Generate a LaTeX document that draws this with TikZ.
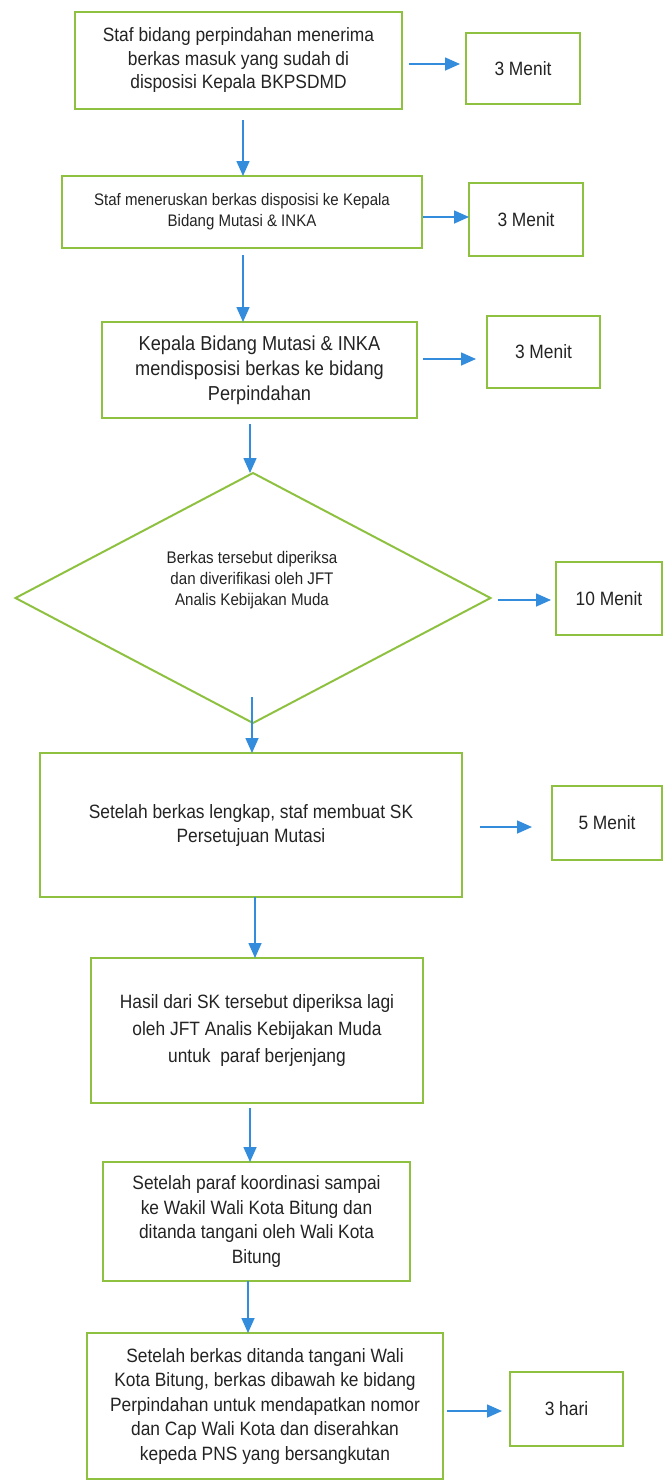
\documentclass[tikz,border=0pt]{standalone}
\usepackage{fontspec}
\setmainfont{Liberation Sans}[FakeStretch=0.9]
\usetikzlibrary{arrows.meta,shapes.geometric}
\definecolor{gr}{RGB}{143,193,64}
\definecolor{bl}{RGB}{52,140,220}
\definecolor{tx}{RGB}{35,35,35}
\begin{document}
\begin{tikzpicture}[x=1pt,y=-1pt,
  box/.style={draw=gr, line width=2pt, rectangle, anchor=north west, inner sep=0pt, outer sep=0pt, align=center, text=tx, font=\fontsize{19.3}{24.5}\selectfont},
  arr/.style={draw=bl, line width=1.6pt, -{Triangle[length=15pt,width=13pt]}},
]
\useasboundingbox (0,0) rectangle (664,1484);

% main column
\node[box, minimum width=327pt, minimum height=97pt, font=\fontsize{19.3}{23.5}\selectfont] (b1) at (75,12)
  {Staf bidang perpindahan menerima\\berkas masuk yang sudah di\\disposisi Kepala BKPSDMD};
\node[box, minimum width=360pt, minimum height=72pt, font=\fontsize{16.7}{21}\selectfont] (b2) at (62,176)
  {Staf meneruskan berkas disposisi ke Kepala\\Bidang Mutasi \& INKA};
\node[box, minimum width=315pt, minimum height=96pt, font=\fontsize{20.2}{25}\selectfont] (b3) at (102,322)
  {Kepala Bidang Mutasi \& INKA\\mendisposisi berkas ke bidang\\Perpindahan};
\node[draw=gr, line width=2pt, diamond, minimum width=475pt, minimum height=250pt, inner sep=0pt, outer sep=0pt] (d) at (253,598) {};
\node[align=center, text=tx, font=\fontsize{16.8}{21}\selectfont] (dt) at (252,580)
  {Berkas tersebut diperiksa\\dan diverifikasi oleh JFT\\Analis Kebijakan Muda};
\node[box, minimum width=422pt, minimum height=144pt, font=\fontsize{19.3}{24}\selectfont] (b5) at (40,753)
  {Setelah berkas lengkap, staf membuat SK\\Persetujuan Mutasi};
\node[box, minimum width=332pt, minimum height=145pt, font=\fontsize{19.3}{27}\selectfont] (b6) at (91,958)
  {Hasil dari SK tersebut diperiksa lagi\\oleh JFT Analis Kebijakan Muda\\untuk\ \ paraf berjenjang};
\node[box, minimum width=307pt, minimum height=119pt, font=\fontsize{19.3}{24.7}\selectfont] (b7) at (103,1162)
  {Setelah paraf koordinasi sampai\\ke Wakil Wali Kota Bitung dan\\ditanda tangani oleh Wali Kota\\Bitung};
\node[box, minimum width=356pt, minimum height=146pt] (b8) at (87,1333)
  {Setelah berkas ditanda tangani Wali\\Kota Bitung, berkas dibawah ke bidang\\Perpindahan untuk mendapatkan nomor\\dan Cap Wali Kota dan diserahkan\\kepeda PNS yang bersangkutan};

% side boxes
\node[box, minimum width=114pt, minimum height=71pt] (s1) at (466,33) {3 Menit};
\node[box, minimum width=114pt, minimum height=73pt] (s2) at (469,183) {3 Menit};
\node[box, minimum width=113pt, minimum height=72pt] (s3) at (487,316) {3 Menit};
\node[box, minimum width=106pt, minimum height=73pt] (s4) at (556,562) {10 Menit};
\node[box, minimum width=110pt, minimum height=74pt] (s5) at (552,786) {5 Menit};
\node[box, minimum width=113pt, minimum height=74pt] (s8) at (510,1372) {3 hari};

% vertical arrows
\draw[arr, shorten <=11pt] ([xshift=4.5pt]b1.south) -- ([xshift=4.5pt]b1.south |- b2.north);
\draw[arr, shorten <=7pt] ([xshift=1pt]b2.south) -- ([xshift=1pt]b2.south |- b3.north);
\draw[arr, shorten <=6pt] ([xshift=-9.5pt]b3.south) -- ([xshift=-9.5pt]b3.south |- d.north);
\draw[arr] ([xshift=-1pt,yshift=26pt]d.south) -- ([xshift=-1pt]d.south |- b5.north);
\draw[arr] ([xshift=4pt]b5.south) -- ([xshift=4pt]b5.south |- b6.north);
\draw[arr, shorten <=5pt] ([xshift=-7pt]b6.south) -- ([xshift=-7pt]b6.south |- b7.north);
\draw[arr] ([xshift=-8.5pt]b7.south) -- ([xshift=-8.5pt]b7.south |- b8.north);

% horizontal arrows
\draw[arr, shorten <=7pt, shorten >=6pt] ([yshift=-3.5pt]b1.east) -- ([yshift=-3.5pt]b1.east -| s1.west);
\draw[arr, shorten <=1pt] ([yshift=-5pt]b2.east) -- ([yshift=-5pt]b2.east -| s2.west);
\draw[arr, shorten <=6pt, shorten >=11pt] ([yshift=11pt]b3.east) -- ([yshift=11pt]b3.east -| s3.west);
\draw[arr, shorten <=7pt, shorten >=5pt] ([yshift=-2pt]d.east) -- ([yshift=-2pt]d.east -| s4.west);
\draw[arr, shorten <=18pt, shorten >=20pt] ([yshift=-2pt]b5.east) -- ([yshift=-2pt]b5.east -| s5.west);
\draw[arr, shorten <=4pt, shorten >=8pt] ([yshift=-5pt]b8.east) -- ([yshift=-5pt]b8.east -| s8.west);
\end{tikzpicture}
\end{document}
